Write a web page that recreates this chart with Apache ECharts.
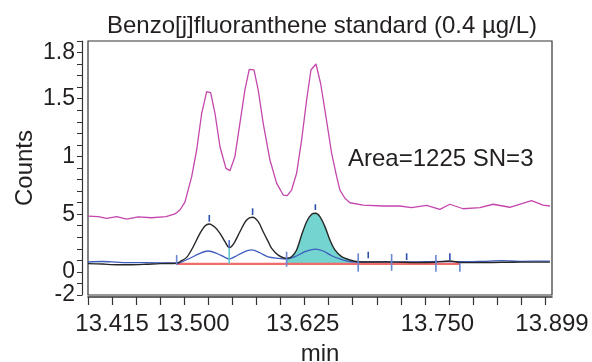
<!DOCTYPE html>
<html>
<head>
<meta charset="utf-8">
<script src="https://cdn.jsdelivr.net/npm/echarts@6/dist/echarts.min.js"></script>
<style>
  html, body { margin: 0; padding: 0; background: #fff; }
  #chart { width: 592px; height: 362px; }
</style>
</head>
<body>
<div id="chart"></div>
<script>
// Retention time (min) / counts pairs for each trace
const magentaTrace = [
  [13.4000, 4.84], [13.4107, 4.78], [13.4194, 4.64], [13.4298, 4.78], [13.4402, 4.58],
  [13.4522, 4.76], [13.4661, 4.69], [13.4811, 4.78], [13.4903, 5.02], [13.4955, 5.36],
  [13.5007, 6.05], [13.5077, 8.25], [13.5129, 10.56], [13.5181, 13.74], [13.5233, 15.61],
  [13.5274, 15.52], [13.5319, 13.74], [13.5371, 10.84], [13.5433, 8.97], [13.5475, 8.77],
  [13.5526, 9.98], [13.5578, 12.87], [13.5630, 15.76], [13.5675, 17.55], [13.5724, 17.49],
  [13.5768, 15.76], [13.5820, 12.87], [13.5890, 9.69], [13.5960, 7.67], [13.6028, 6.66],
  [13.6070, 6.60], [13.6115, 7.09], [13.6167, 8.54], [13.6219, 11.42], [13.6271, 14.89],
  [13.6316, 17.49], [13.6368, 18.01], [13.6416, 16.34], [13.6472, 13.44], [13.6531, 10.27],
  [13.6583, 8.25], [13.6617, 7.09], [13.6669, 6.38], [13.6721, 5.99], [13.6859, 5.79],
  [13.7064, 5.71], [13.7240, 5.71], [13.7361, 5.56], [13.7517, 5.77], [13.7655, 5.42],
  [13.7759, 5.86], [13.7897, 5.47], [13.8071, 5.56], [13.8209, 5.86], [13.8382, 5.60],
  [13.8607, 6.17], [13.8728, 5.79], [13.8798, 5.71]
];

const blackTrace = [
  [13.4000, 0.72], [13.4150, 0.68], [13.4300, 0.62], [13.4450, 0.62], [13.4600, 0.66],
  [13.4748, 0.72], [13.4924, 0.75], [13.4955, 0.88], [13.5025, 1.26], [13.5093, 2.18],
  [13.5163, 3.34], [13.5215, 3.98], [13.5260, 4.15], [13.5319, 3.86], [13.5371, 3.34],
  [13.5423, 2.62], [13.5467, 2.10], [13.5516, 2.48], [13.5578, 3.48], [13.5648, 4.50],
  [13.5710, 4.73], [13.5768, 4.35], [13.5820, 3.48], [13.5872, 2.62], [13.5908, 2.04],
  [13.5976, 1.46], [13.6063, 1.18], [13.6115, 1.32], [13.6167, 1.90], [13.6219, 3.20],
  [13.6271, 4.35], [13.6323, 4.99], [13.6365, 5.08], [13.6409, 4.78], [13.6461, 3.92],
  [13.6513, 2.76], [13.6565, 1.90], [13.6634, 1.32], [13.6721, 1.03], [13.6807, 0.88],
  [13.6981, 0.86], [13.7200, 0.85], [13.7400, 0.82], [13.7600, 0.84], [13.7759, 0.94],
  [13.7863, 0.82], [13.8000, 0.80], [13.8200, 0.82], [13.8400, 0.84], [13.8600, 0.85],
  [13.8798, 0.85]
];

const blueTrace = [
  [13.4000, 0.86], [13.4150, 0.90], [13.4300, 0.84], [13.4450, 0.80], [13.4600, 0.80],
  [13.4800, 0.78], [13.4924, 0.76], [13.4955, 0.80], [13.5059, 1.18], [13.5163, 1.61],
  [13.5249, 1.81], [13.5336, 1.61], [13.5423, 1.26], [13.5467, 1.12], [13.5526, 1.32],
  [13.5613, 1.70], [13.5700, 1.90], [13.5786, 1.66], [13.5872, 1.30], [13.5976, 1.18],
  [13.6063, 1.12], [13.6150, 1.32], [13.6254, 1.75], [13.6358, 1.98], [13.6444, 1.81],
  [13.6531, 1.40], [13.6617, 1.12], [13.6738, 0.88], [13.6877, 0.86], [13.7100, 0.88],
  [13.7300, 0.86], [13.7500, 0.88], [13.7700, 0.90], [13.7900, 0.88], [13.8100, 0.92],
  [13.8300, 0.97], [13.8500, 0.92], [13.8798, 0.94]
];

// Integration baseline
const baselineTrace = [[13.4921, 0.70], [13.7863, 0.70]];
// Integrated peak window (start, end)
const integratedWindow = [13.6063, 13.6807];

// Peak boundary markers: [time, low, high]
const boundaryMarks = [
  [13.4921, 0.60, 1.46], [13.6063, 0.45, 1.75], [13.6807, 0.02, 1.61],
  [13.7154, 0.10, 1.55], [13.7614, 0.02, 1.46], [13.7863, 0.02, 0.80]
];
// Valley drop line and marker
const valleyDrop = [[13.5467, 0.70, 2.10]];
const valleyMark = [[13.5467, 2.10, 2.75]];
// Apex markers: [time, low, high]
const apexMarks = [
  [13.5260, 4.35, 4.93], [13.5710, 4.93, 5.51], [13.6362, 5.36, 5.86],
  [13.6911, 1.18, 1.75], [13.7310, 1.03, 1.61], [13.7759, 1.03, 1.61]
];

// Axis ticks and labels
const xTickValues = [13.400, 13.425, 13.450, 13.475, 13.500, 13.525, 13.550, 13.575, 13.600,
  13.625, 13.650, 13.675, 13.700, 13.725, 13.750, 13.775, 13.800, 13.825, 13.850, 13.875];
const xLabelTexts = ['13.415', '13.500', '13.625', '13.750', '13.899'];
const xLabelAt = [13.425, 13.509, 13.623, 13.763, 13.882];

const yTickValues = [-2, -1, 0, 1, 2, 3, 4, 5, 6, 7, 8, 9, 10, 11, 12, 13, 14, 15, 16, 17, 18, 19, 20];
const yLabelTexts = ['-2', '0', '5', '1', '1.5', '1.8'];
const yLabelAt = [-2, 0, 5, 10, 15, 19];

const FONT = "'Liberation Sans', Arial, Helvetica, sans-serif";
const INK = '#231f20';

function segmentSeries(data, color, width) {
  return {
    type: 'custom',
    data: data,
    silent: true,
    z: 6,
    renderItem: function (params, api) {
      const p0 = api.coord([api.value(0), api.value(1)]);
      const p1 = api.coord([api.value(0), api.value(2)]);
      return {
        type: 'line',
        shape: { x1: p0[0], y1: p0[1], x2: p1[0], y2: p1[1] },
        style: { stroke: color, lineWidth: width }
      };
    }
  };
}

const chart = echarts.init(document.getElementById('chart'), null, { renderer: 'canvas' });

chart.setOption({
  animation: false,
  backgroundColor: '#ffffff',
  title: {
    text: 'Benzo[j]fluoranthene standard (0.4 µg/L)',
    left: 102,
    top: 9,
    textStyle: { fontFamily: FONT, fontSize: 24, fontWeight: 'normal', color: INK }
  },
  graphic: [{
    type: 'text',
    left: 348,
    top: 147,
    style: { text: 'Area=1225 SN=3', fontFamily: FONT, fontSize: 24, fill: INK }
  }],
  grid: {
    left: 88, right: 40, top: 41, bottom: 67,
    containLabel: false,
    outerBoundsMode: 'none',
    show: true, borderColor: '#333', borderWidth: 1.2, backgroundColor: 'transparent'
  },
  xAxis: {
    type: 'value',
    min: 13.4, max: 13.882,
    offset: 2,
    name: 'min',
    nameLocation: 'middle',
    nameGap: 45,
    nameMoveOverlap: false,
    nameTextStyle: { fontFamily: FONT, fontSize: 24, color: INK },
    axisLine: { show: true, onZero: false, lineStyle: { color: '#333', width: 1.6 } },
    axisTick: { show: true, length: 8, customValues: xTickValues, lineStyle: { color: '#333', width: 1.2 } },
    axisLabel: {
      customValues: xLabelAt,
      margin: 15,
      showMinLabel: true, showMaxLabel: true, hideOverlap: false,
      fontFamily: FONT, fontSize: 24, color: INK,
      formatter: function (v) {
        const i = xLabelAt.findIndex(function (a) { return Math.abs(a - v) < 1e-6; });
        return i >= 0 ? xLabelTexts[i] : '';
      }
    },
    splitLine: { show: false }
  },
  yAxis: {
    type: 'value',
    min: -2, max: 20,
    offset: 6,
    name: 'Counts',
    nameLocation: 'middle',
    nameGap: 45,
    nameMoveOverlap: false,
    nameTextStyle: { fontFamily: FONT, fontSize: 24, color: INK },
    axisLine: { show: true, onZero: false, lineStyle: { color: '#333', width: 1.2 } },
    axisTick: { show: true, length: 5, customValues: yTickValues, lineStyle: { color: '#333', width: 1 } },
    axisLabel: {
      customValues: yLabelAt,
      margin: 7,
      showMinLabel: true, showMaxLabel: true, hideOverlap: false,
      fontFamily: FONT, fontSize: 23, color: INK,
      formatter: function (v) {
        const i = yLabelAt.findIndex(function (a) { return Math.abs(a - v) < 1e-6; });
        return i >= 0 ? yLabelTexts[i] : '';
      }
    },
    splitLine: { show: false }
  },
  series: [
    {
      // Shaded area of the integrated peak, between the trace and the baseline
      type: 'custom',
      data: [[integratedWindow[0]]],
      silent: true,
      z: 2,
      renderItem: function (params, api) {
        const base = baselineTrace[0][1];
        const pts = [];
        pts.push(api.coord([integratedWindow[0], base]));
        blackTrace.forEach(function (d) {
          if (d[0] >= integratedWindow[0] && d[0] <= integratedWindow[1]) {
            pts.push(api.coord(d));
          }
        });
        pts.push(api.coord([integratedWindow[1], base]));
        return {
          type: 'polygon',
          shape: { points: pts },
          style: { fill: '#74d4cf', stroke: 'none' }
        };
      }
    },
    {
      type: 'line', data: baselineTrace, showSymbol: false, silent: true, z: 3,
      lineStyle: { color: '#f26c6c', width: 2.2 }
    },
    {
      type: 'line', data: magentaTrace, showSymbol: false, silent: true, z: 4,
      lineStyle: { color: '#c446ad', width: 1.3 }
    },
    {
      type: 'line', data: blueTrace, showSymbol: false, silent: true, z: 4, smooth: 0.3,
      lineStyle: { color: '#3d5cbd', width: 1.3 }
    },
    {
      type: 'line', data: blackTrace, showSymbol: false, silent: true, z: 5, smooth: 0.3,
      lineStyle: { color: '#262626', width: 1.4 }
    },
    segmentSeries(valleyDrop, '#5cc6cf', 1.6),
    segmentSeries(valleyMark, '#4a68c4', 1.6),
    segmentSeries(boundaryMarks, '#6b86cf', 1.6),
    segmentSeries(apexMarks, '#2f4fae', 1.6)
  ]
});
</script>
</body>
</html>
